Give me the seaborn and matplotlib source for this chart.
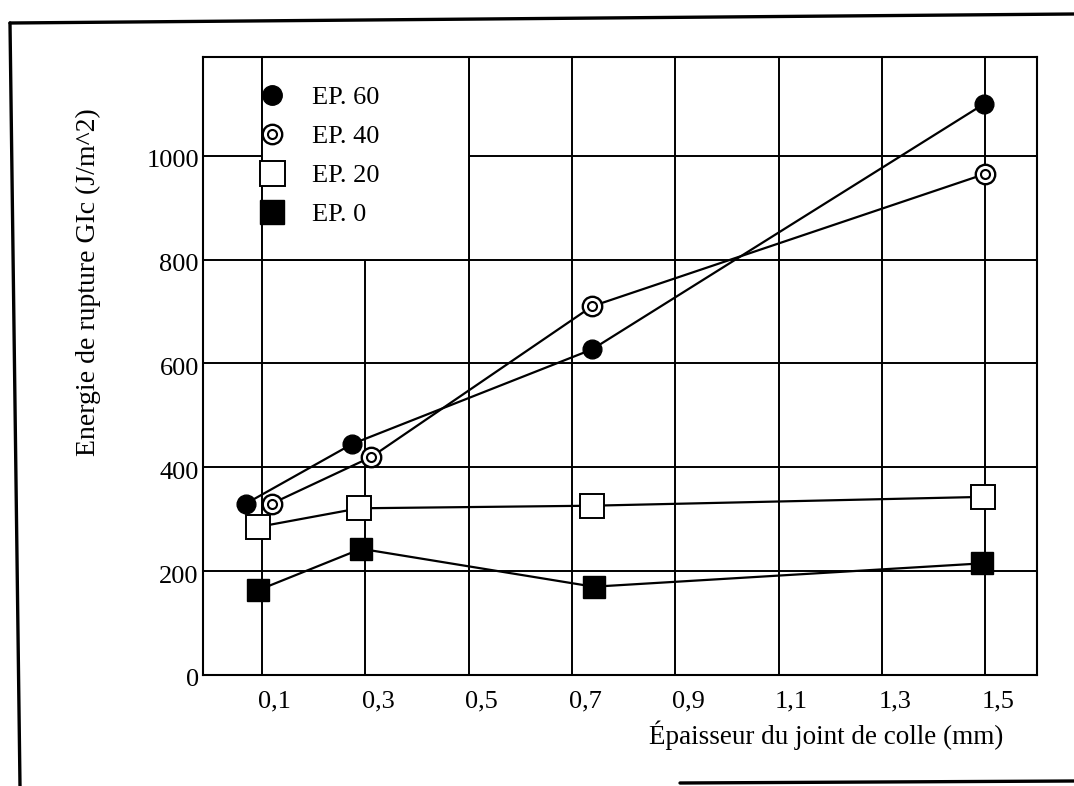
import matplotlib
matplotlib.use("Agg")
import matplotlib.pyplot as plt
import seaborn as sns
from matplotlib.lines import Line2D
from matplotlib.patches import Rectangle
from matplotlib.transforms import ScaledTranslation

# ---------------- data ----------------
series = ["EP. 60", "EP. 40", "EP. 20", "EP. 0"]

x_ep60 = [0.069, 0.275, 0.739, 1.498]
y_ep60 = [330, 445, 627, 1100]

x_ep40 = [0.119, 0.312, 0.739, 1.500]
y_ep40 = [330, 420, 710, 965]

x_ep20 = [0.092, 0.288, 0.739, 1.496]
y_ep20 = [285, 321, 326, 343]

x_ep0 = [0.092, 0.292, 0.742, 1.494]
y_ep0 = [163, 243, 170, 215]

xticks = [0.1, 0.3, 0.5, 0.7, 0.9, 1.1, 1.3, 1.5]
xtick_labels = ["0,1", "0,3", "0,5", "0,7", "0,9", "1,1", "1,3", "1,5"]
yticks = [0, 200, 400, 600, 800, 1000]
ytick_labels = ["0", "200", "400", "600", "800", "1000"]

xlabel = "Épaisseur du joint de colle (mm)"
ylabel = "Energie de rupture GIc (J/m^2)"

# ---------------- style ----------------
sns.set_theme(style="white")
plt.rcParams["font.family"] = ["Liberation Serif", "DejaVu Serif"]
plt.rcParams["mathtext.default"] = "regular"
for k in ["text.color", "axes.labelcolor", "xtick.color", "ytick.color"]:
    plt.rcParams[k] = "black"

FS = 19
FSL = 19.5
W, H = 1074, 786
fig = plt.figure(figsize=(W / 100, H / 100), dpi=100)
fig.patch.set_facecolor("white")
ax = fig.add_axes([203 / W, 1 - 675 / H, 834 / W, 618 / H])
ax.set_facecolor("white")

XMIN, XMAX = -0.014, 1.6
YMIN, YMAX = 0, 1190
ax.set_xlim(XMIN, XMAX)
ax.set_ylim(YMIN, YMAX)

ax.set_xticks(xticks)
ax.set_xticklabels(xtick_labels, fontsize=FS)
ax.set_yticks(yticks)
ax.set_yticklabels(ytick_labels, fontsize=FS)
ax.tick_params(axis="x", length=0, pad=11)
ax.tick_params(axis="y", length=0, pad=3)
# the printed labels sit slightly right of their grid lines
for lab in ax.get_xticklabels():
    lab.set_transform(lab.get_transform() + ScaledTranslation(0.13, 0, fig.dpi_scale_trans))
for lab in ax.get_yticklabels():
    lab.set_transform(lab.get_transform() + ScaledTranslation(0, -0.03, fig.dpi_scale_trans))

ax.grid(True, color="black", linewidth=1.4, zorder=0.5)
ax.set_axisbelow(True)
for s in ax.spines.values():
    s.set_color("black")
    s.set_linewidth(1.5)
    s.set_visible(True)

# legend box (white, covering grid) spanning one grid cell
ax.add_patch(Rectangle((0.1, 800), 0.4, YMAX - 800, facecolor="white",
                       edgecolor="black", linewidth=1.4, zorder=1.5))

LW = 1.6
common = dict(ax=ax, color="black", linewidth=LW, legend=False, zorder=3)
sns.lineplot(x=x_ep60, y=y_ep60, marker="o", markersize=13.5,
             markerfacecolor="black", markeredgecolor="black",
             markeredgewidth=1.0, **common)
sns.lineplot(x=x_ep40, y=y_ep40, marker="o", markersize=14,
             markerfacecolor="white", markeredgecolor="black",
             markeredgewidth=1.7, **common)
sns.lineplot(x=x_ep40, y=y_ep40, marker="o", markersize=6.5,
             markerfacecolor="white", markeredgecolor="black",
             markeredgewidth=1.5, linestyle="none", ax=ax,
             color="black", legend=False, zorder=4)
sns.lineplot(x=x_ep20, y=y_ep20, marker="s", markersize=17,
             markerfacecolor="white", markeredgecolor="black",
             markeredgewidth=1.4, **common)
sns.lineplot(x=x_ep0, y=y_ep0, marker="s", markersize=16.5,
             markerfacecolor="black", markeredgecolor="black",
             markeredgewidth=1.0, **common)

# legend
h60 = Line2D([], [], ls="none", marker="o", markersize=14,
             markerfacecolor="black", markeredgecolor="black")
h40 = (Line2D([], [], ls="none", marker="o", markersize=14,
              markerfacecolor="white", markeredgecolor="black", markeredgewidth=1.7),
       Line2D([], [], ls="none", marker="o", markersize=6.5,
              markerfacecolor="white", markeredgecolor="black", markeredgewidth=1.5))
h20 = Line2D([], [], ls="none", marker="s", markersize=18,
             markerfacecolor="white", markeredgecolor="black", markeredgewidth=1.4)
h0 = Line2D([], [], ls="none", marker="s", markersize=17,
            markerfacecolor="black", markeredgecolor="black")
leg = ax.legend([h60, h40, h20, h0], series, loc="upper left",
                bbox_to_anchor=((257 - 203) / 834, (675 - 86) / 618),
                frameon=False, fontsize=FS, borderpad=0, borderaxespad=0,
                handlelength=1.15, handletextpad=0.95, labelspacing=0.58)
leg.set_zorder(5)

ax.set_xlabel(xlabel, fontsize=FSL)
ax.xaxis.set_label_coords((826 - 203) / 834, -(720 - 675) / 618)
ax.xaxis.label.set_va("top")
ax.set_ylabel(ylabel, fontsize=FSL + 0.5)
ax.yaxis.set_label_coords((88 - 203) / 834, (675 - 282) / 618)
ax.yaxis.label.set_va("center")

# scanned page frame
fig.add_artist(Line2D([10 / W, 20 / W], [1 - 23 / H, 0], transform=fig.transFigure,
                      color="black", linewidth=2.4))
fig.add_artist(Line2D([10 / W, 1.0], [1 - 23 / H, 1 - 14 / H], transform=fig.transFigure,
                      color="black", linewidth=2.4))
fig.add_artist(Line2D([680 / W, 1.0], [1 - 783 / H, 1 - 781 / H], transform=fig.transFigure,
                      color="black", linewidth=2.4))

fig.savefig("out.png", dpi=100, facecolor="white")
